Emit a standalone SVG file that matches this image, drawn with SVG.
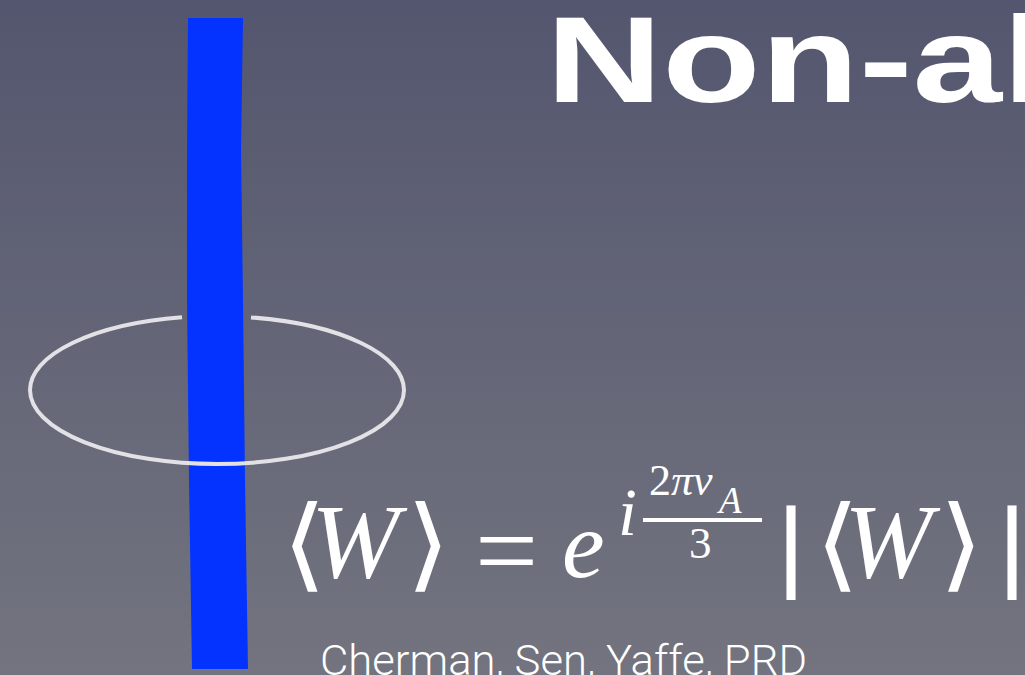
<svg xmlns="http://www.w3.org/2000/svg" width="1025" height="675" viewBox="0 0 1025 675">
  <defs>
    <linearGradient id="bg" x1="0" y1="0" x2="0" y2="1">
      <stop offset="0" stop-color="#54566f"/>
      <stop offset="1" stop-color="#73747f"/>
    </linearGradient>
    <style>
      .ring { fill: none; stroke: #e2e2e6; stroke-width: 4; }
      .m { fill: #ffffff; font-family: "Liberation Serif", "DejaVu Serif", serif; }
      .it { font-style: italic; }
      .bar { stroke: #ffffff; stroke-width: 4; }
      .title { fill: #ffffff; font-family: "Liberation Sans", Arial, sans-serif; font-weight: bold; }
      .cite { fill: #ffffff; font-family: Roboto, "Liberation Sans", sans-serif; font-weight: 300; }
    </style>
  </defs>
  <rect width="1025" height="675" fill="url(#bg)"/>

  <g id="title">
    <text class="title" font-size="122" transform="translate(546,102) scale(1.32,1)">Non-al</text>
  </g>

  <g id="loop-back">
    <path class="ring" d="M30,390 A187,74 0 0 1 182,317.3"/>
    <path class="ring" d="M251,317.4 A187,74 0 0 1 404,390"/>
  </g>

  <g id="flux-tube">
    <path d="M188,18 L243,18 L241,150 L243,300 L245,480 L248,669 L192,669 L189,480 L187,300 L187,150 Z" fill="#0433ff"/>
  </g>

  <g id="loop-front">
    <path class="ring" d="M404,390 A187,74 0 0 1 30,390"/>
  </g>

  <g id="formula">
    <text class="m" font-size="102" transform="translate(282,578) scale(1.12,1)">⟨</text>
    <text class="m it" x="311" y="577" font-size="106">W</text>
    <text class="m" font-size="102" transform="translate(406,578) scale(1.12,1)">⟩</text>
    <text class="m" x="475" y="588" font-size="112">=</text>
    <text class="m it" x="562" y="577" font-size="96">e</text>
    <text class="m it" x="618" y="535" font-size="68">i</text>
    <text class="m" x="649" y="495" font-size="44">2<tspan class="it">πν</tspan></text>
    <text class="m it" x="719" y="513" font-size="37">A</text>
    <rect x="643" y="518" width="119" height="4" fill="#ffffff"/>
    <text class="m" x="689" y="558" font-size="45">3</text>
    <text class="m bar" x="781" y="577" font-size="100">|</text>
    <text class="m" font-size="102" transform="translate(815,578) scale(1.12,1)">⟨</text>
    <text class="m it" x="844" y="577" font-size="106">W</text>
    <text class="m" font-size="102" transform="translate(939,578) scale(1.12,1)">⟩</text>
    <text class="m bar" x="1002" y="577" font-size="100">|</text>
  </g>

  <g id="citation">
    <text class="cite" x="320" y="675" font-size="42" textLength="487" lengthAdjust="spacingAndGlyphs">Cherman, Sen, Yaffe, PRD</text>
  </g>
</svg>
